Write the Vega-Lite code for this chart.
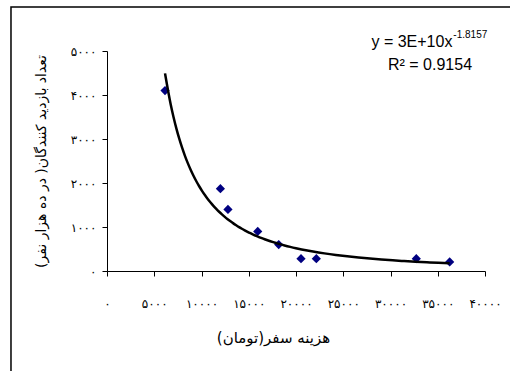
{
  "$schema": "https://vega.github.io/schema/vega-lite/v6.json",
  "width": 378,
  "height": 220,
  "autosize": {"type": "none"},
  "padding": {"left": 107, "top": 51, "right": 25, "bottom": 100},
  "background": "white",
  "config": {"view": {"stroke": null}},
  "datasets": {
    "pts": [
      {"cost": 6140, "visitors": 4100},
      {"cost": 12000, "visitors": 1870},
      {"cost": 12800, "visitors": 1400},
      {"cost": 15950, "visitors": 900},
      {"cost": 18170, "visitors": 600},
      {"cost": 20530, "visitors": 280},
      {"cost": 22150, "visitors": 280},
      {"cost": 32730, "visitors": 280},
      {"cost": 36260, "visitors": 205}
    ]
  },
  "layer": [
    {
      "data": {"values": [{"frame": "border"}]},
      "mark": {"type": "rect", "fill": null, "stroke": "black", "strokeWidth": 1.5},
      "encoding": {
        "x": {"datum": -10160, "type": "quantitative", "scale": {"domain": [0, 40000]}},
        "x2": {"datum": 50000},
        "y": {"datum": 6000, "type": "quantitative", "scale": {"domain": [0, 5000]}},
        "y2": {"datum": -3000}
      }
    },
    {
      "data": {"name": "pts"},
      "mark": {"type": "point", "shape": "diamond", "filled": true, "color": "#000080", "size": 85, "opacity": 1},
      "encoding": {
        "x": {
          "field": "cost", "type": "quantitative",
          "scale": {"domain": [0, 40000], "nice": false, "zero": true},
          "axis": {
            "title": "هزینه سفر(تومان)",
            "values": [0, 5000, 10000, 15000, 20000, 25000, 30000, 35000, 40000],
            "format": "d",
            "labelExpr": "replace(replace(replace(replace(replace(replace(datum.label,regexp('0','g'),'۰'),regexp('1','g'),'۱'),regexp('2','g'),'۲'),regexp('3','g'),'۳'),regexp('4','g'),'۴'),regexp('5','g'),'۵')",
            "grid": false,
            "domainColor": "black",
            "domainWidth": 1,
            "tickColor": "black",
            "tickSize": 5,
            "labelFont": "DejaVu Sans",
            "labelFontSize": 12,
            "labelColor": "#000000",
            "labelPadding": 22,
            "labelFlush": false,
            "labelOverlap": false,
            "titleFont": "DejaVu Sans",
            "titleFontSize": 15,
            "titleFontWeight": "normal",
            "titleColor": "#000000",
            "titlePadding": 21,
            "titleX": 166
          }
        },
        "y": {
          "field": "visitors", "type": "quantitative",
          "scale": {"domain": [0, 5000], "nice": false},
          "axis": {
            "title": "تعداد بازدید کنندگان( در ده هزار نفر)",
            "values": [0, 1000, 2000, 3000, 4000, 5000],
            "format": "d",
            "labelExpr": "replace(replace(replace(replace(replace(replace(datum.label,regexp('0','g'),'۰'),regexp('1','g'),'۱'),regexp('2','g'),'۲'),regexp('3','g'),'۳'),regexp('4','g'),'۴'),regexp('5','g'),'۵')",
            "grid": false,
            "domainColor": "black",
            "domainWidth": 1,
            "tickColor": "black",
            "tickSize": 5,
            "labelFont": "DejaVu Sans",
            "labelFontSize": 12,
            "labelColor": "#000000",
            "labelPadding": 6,
            "labelFlush": false,
            "titleFont": "DejaVu Sans",
            "titleFontSize": 14,
            "titleFontWeight": "normal",
            "titleColor": "#000000",
            "titlePadding": 22
          }
        }
      }
    },
    {
      "data": {"name": "pts"},
      "transform": [{"regression": "visitors", "on": "cost", "method": "pow"}],
      "mark": {"type": "line", "color": "black", "strokeWidth": 2.5, "interpolate": "monotone"},
      "encoding": {
        "x": {"field": "cost", "type": "quantitative"},
        "y": {"field": "visitors", "type": "quantitative"}
      }
    },
    {
      "data": {"values": [{"label": "y = 3E+10x"}]},
      "mark": {"type": "text", "align": "right", "baseline": "alphabetic", "font": "Liberation Sans", "fontSize": 16, "color": "black"},
      "encoding": {
        "x": {"datum": 36550, "type": "quantitative"},
        "y": {"datum": 5080, "type": "quantitative"},
        "text": {"field": "label"}
      }
    },
    {
      "data": {"values": [{"label": "-1.8157"}]},
      "mark": {"type": "text", "align": "left", "baseline": "alphabetic", "font": "Liberation Sans", "fontSize": 10, "color": "black"},
      "encoding": {
        "x": {"datum": 36650, "type": "quantitative"},
        "y": {"datum": 5290, "type": "quantitative"},
        "text": {"field": "label"}
      }
    },
    {
      "data": {"values": [{"label": "R² = 0.9154"}]},
      "mark": {"type": "text", "align": "center", "baseline": "alphabetic", "font": "Liberation Sans", "fontSize": 16, "color": "black"},
      "encoding": {
        "x": {"datum": 34180, "type": "quantitative"},
        "y": {"datum": 4560, "type": "quantitative"},
        "text": {"field": "label"}
      }
    }
  ]
}
